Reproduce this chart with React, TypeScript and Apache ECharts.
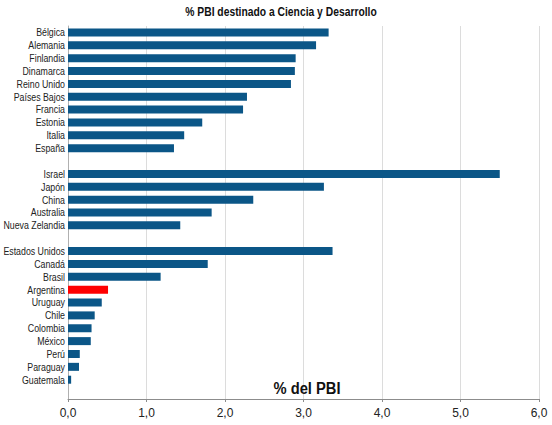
import React, { useEffect, useRef } from "react";
import * as echarts from "echarts";

const countries: string[] = [
  "Bélgica", "Alemania", "Finlandia", "Dinamarca", "Reino Unido", "Países Bajos",
  "Francia", "Estonia", "Italia", "España", "",
  "Israel", "Japón", "China", "Australia", "Nueva Zelandia", "",
  "Estados Unidos", "Canadá", "Brasil", "Argentina", "Uruguay", "Chile",
  "Colombia", "México", "Perú", "Paraguay", "Guatemala", "",
];

const values: (number | null)[] = [
  3.32, 3.16, 2.9, 2.89, 2.84, 2.28,
  2.23, 1.71, 1.48, 1.35, null,
  5.5, 3.26, 2.36, 1.83, 1.43, null,
  3.37, 1.78, 1.18, 0.51, 0.43, 0.34,
  0.3, 0.29, 0.15, 0.14, 0.04, null,
];

const highlight = "Argentina";
const title = "% PBI destinado a Ciencia y Desarrollo";
const axisTitle = "% del PBI";

const SANS = "'Liberation Sans Narrow', 'Arial Narrow', 'Liberation Sans', Arial, sans-serif";

export default function App() {
  const ref = useRef<HTMLDivElement>(null);
  useEffect(() => {
    if (!ref.current) return;
    const chart = echarts.init(ref.current, undefined, { renderer: "svg" });
    chart.setOption({
      animation: false,
      backgroundColor: "#ffffff",
      grid: { left: 68, right: 13, top: 26, bottom: 26, containLabel: false },
      xAxis: {
        type: "value",
        min: 0,
        max: 6,
        interval: 1,
        axisLine: { show: true, lineStyle: { color: "#8c8c8c", width: 1 } },
        axisTick: { show: true, length: 3, lineStyle: { color: "#8c8c8c" } },
        axisLabel: {
          color: "#222",
          fontSize: 12,
          margin: 8,
          fontFamily: "'Liberation Sans', Arial, sans-serif",
          formatter: (v: number) => v.toFixed(1).replace(".", ","),
        },
        splitLine: { show: true, lineStyle: { color: "#dcdcdc", width: 1 } },
      },
      yAxis: {
        type: "category",
        inverse: true,
        data: countries,
        axisLine: { show: true, lineStyle: { color: "#b0b0b0", width: 1 } },
        axisTick: { show: false },
        axisLabel: { show: false },
        splitLine: { show: false },
      },
      series: [
        {
          type: "bar",
          barWidth: 8,
          data: values.map((v, i) => ({
            value: v,
            itemStyle: { color: countries[i] === highlight ? "#ff0000" : "#0b5687" },
          })),
        },
      ],
    });

    // Category labels drawn as condensed text at the positions given by the y axis scale
    const labelEls: any[] = [];
    countries.forEach((name, i) => {
      if (!name) return;
      const y = chart.convertToPixel({ yAxisIndex: 0 }, i) as number;
      const x = (chart.convertToPixel({ xAxisIndex: 0 }, 0) as number) - 3;
      labelEls.push({
        type: "text",
        x,
        y,
        scaleX: 0.8,
        style: {
          text: name,
          fill: "#222",
          font: `11px ${SANS}`,
          textAlign: "right",
          textVerticalAlign: "middle",
        },
      });
    });

    chart.setOption({
      graphic: [
        ...labelEls,
        {
          type: "text",
          x: 281,
          y: 12,
          scaleX: 0.86,
          style: {
            text: title,
            fill: "#111",
            font: `bold 12px ${SANS}`,
            textAlign: "center",
            textVerticalAlign: "middle",
          },
        },
        {
          type: "text",
          x: 307,
          y: 388,
          scaleX: 0.92,
          style: {
            text: axisTitle,
            fill: "#111",
            font: `bold 16px ${SANS}`,
            textAlign: "center",
            textVerticalAlign: "middle",
          },
        },
      ],
    });
    return () => chart.dispose();
  }, []);
  return (
    <div
      ref={ref}
      style={{ position: "fixed", left: 0, top: 0, width: 552, height: 425 }}
    />
  );
}
